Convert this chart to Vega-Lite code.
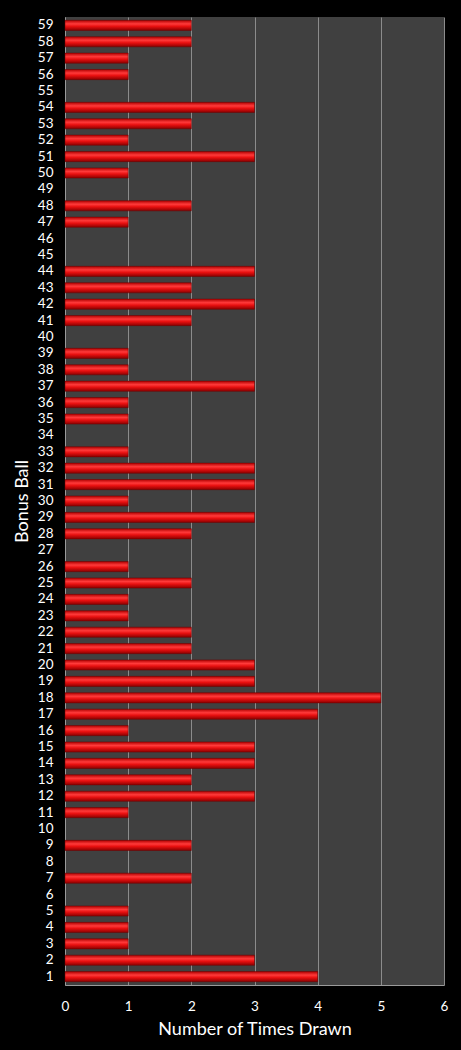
{
  "$schema": "https://vega.github.io/schema/vega-lite/v6.json",
  "description": "Bonus ball frequency",
  "autosize": {"type": "none"},
  "width": 379,
  "height": 968,
  "padding": {"left": 65, "top": 17, "right": 17, "bottom": 65},
  "background": "#000000",
  "data": {
    "values": [
      {"ball": 1, "times": 4}, {"ball": 2, "times": 3}, {"ball": 3, "times": 1},
      {"ball": 4, "times": 1}, {"ball": 5, "times": 1}, {"ball": 6, "times": 0},
      {"ball": 7, "times": 2}, {"ball": 8, "times": 0}, {"ball": 9, "times": 2},
      {"ball": 10, "times": 0}, {"ball": 11, "times": 1}, {"ball": 12, "times": 3},
      {"ball": 13, "times": 2}, {"ball": 14, "times": 3}, {"ball": 15, "times": 3},
      {"ball": 16, "times": 1}, {"ball": 17, "times": 4}, {"ball": 18, "times": 5},
      {"ball": 19, "times": 3}, {"ball": 20, "times": 3}, {"ball": 21, "times": 2},
      {"ball": 22, "times": 2}, {"ball": 23, "times": 1}, {"ball": 24, "times": 1},
      {"ball": 25, "times": 2}, {"ball": 26, "times": 1}, {"ball": 27, "times": 0},
      {"ball": 28, "times": 2}, {"ball": 29, "times": 3}, {"ball": 30, "times": 1},
      {"ball": 31, "times": 3}, {"ball": 32, "times": 3}, {"ball": 33, "times": 1},
      {"ball": 34, "times": 0}, {"ball": 35, "times": 1}, {"ball": 36, "times": 1},
      {"ball": 37, "times": 3}, {"ball": 38, "times": 1}, {"ball": 39, "times": 1},
      {"ball": 40, "times": 0}, {"ball": 41, "times": 2}, {"ball": 42, "times": 3},
      {"ball": 43, "times": 2}, {"ball": 44, "times": 3}, {"ball": 45, "times": 0},
      {"ball": 46, "times": 0}, {"ball": 47, "times": 1}, {"ball": 48, "times": 2},
      {"ball": 49, "times": 0}, {"ball": 50, "times": 1}, {"ball": 51, "times": 3},
      {"ball": 52, "times": 1}, {"ball": 53, "times": 2}, {"ball": 54, "times": 3},
      {"ball": 55, "times": 0}, {"ball": 56, "times": 1}, {"ball": 57, "times": 1},
      {"ball": 58, "times": 2}, {"ball": 59, "times": 2}
    ]
  },
  "config": {
    "font": "Lato",
    "view": {"fill": "#404040", "stroke": null}
  },
  "mark": {
    "type": "bar",
    "color": {
      "gradient": "linear",
      "x1": 0, "y1": 0, "x2": 0, "y2": 1,
      "stops": [
        {"offset": 0, "color": "#b00000"},
        {"offset": 0.35, "color": "#ff3a3a"},
        {"offset": 0.6, "color": "#e81010"},
        {"offset": 1, "color": "#8a0000"}
      ]
    },
    "stroke": "#700000",
    "strokeWidth": 0.5
  },
  "encoding": {
    "y": {
      "field": "ball",
      "type": "ordinal",
      "sort": "descending",
      "title": "Bonus Ball",
      "scale": {"paddingInner": 0.38, "paddingOuter": 0.2},
      "axis": {
        "labelColor": "#ffffff",
        "labelFontSize": 13.5,
        "labelPadding": 12,
        "ticks": false,
        "domainColor": "#9a9a9a",
        "titleColor": "#ffffff",
        "titleFontSize": 18,
        "titleFontWeight": "normal",
        "titlePadding": 6
      }
    },
    "x": {
      "field": "times",
      "type": "quantitative",
      "title": "Number of Times Drawn",
      "scale": {"domain": [0, 6], "nice": false},
      "axis": {
        "values": [0, 1, 2, 3, 4, 5, 6],
        "labelColor": "#ffffff",
        "labelFontSize": 13.5,
        "labelPadding": 14,
        "labelFlush": false,
        "ticks": false,
        "grid": true,
        "gridColor": "#8c8c8c",
        "gridWidth": 1,
        "domainColor": "#9a9a9a",
        "titleColor": "#ffffff",
        "titleFontSize": 18,
        "titleFontWeight": "normal",
        "titlePadding": 8
      }
    },
    "strokeOpacity": {
      "condition": {"test": "datum.times > 0", "value": 1},
      "value": 0
    }
  }
}
